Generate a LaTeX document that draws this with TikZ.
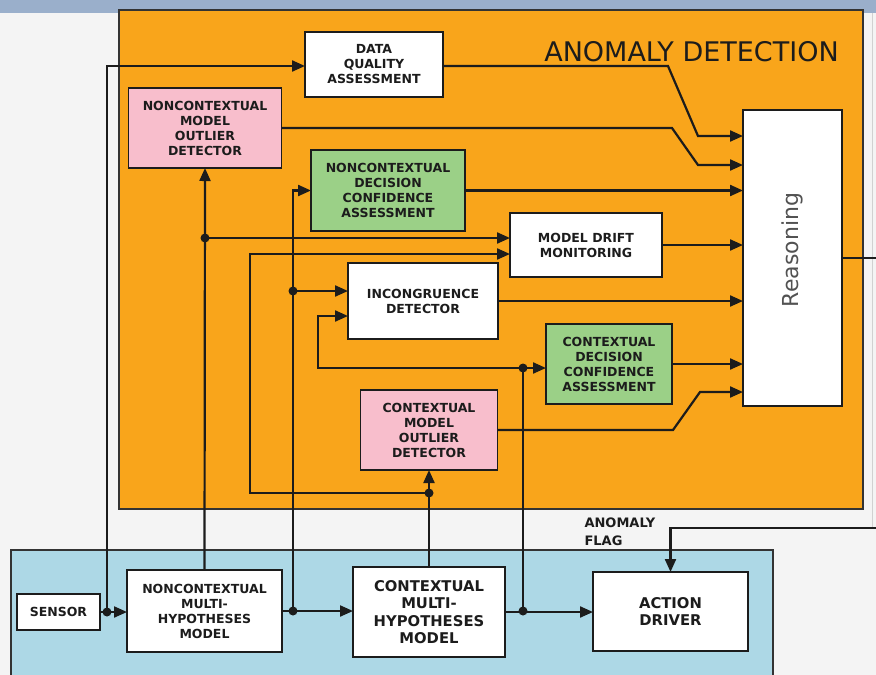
\documentclass[tikz,border=0pt]{standalone}
\usepackage{fontspec}
\setmainfont{DejaVu Sans}
\usetikzlibrary{arrows.meta,calc}
\definecolor{pagebg}{HTML}{F4F4F4}
\definecolor{topbar}{HTML}{9AAFCB}
\definecolor{detorange}{HTML}{F9A51B}
\definecolor{sysblue}{HTML}{ADD8E6}
\definecolor{outlierpink}{HTML}{F8BECC}
\definecolor{confgreen}{HTML}{9BD087}
\definecolor{inkdark}{HTML}{1C1C1C}
\begin{document}
\begin{tikzpicture}[x=1pt,y=-1pt,
  blk/.style={draw=inkdark, line width=1.6pt, fill=white, inner sep=0pt, outer sep=0pt,
    align=center, text=inkdark, font=\fontsize{12.5}{15}\selectfont\bfseries},
  bigblk/.style={blk, font=\fontsize{14.8}{17.5}\selectfont\bfseries},
  pinkblk/.style={blk, fill=outlierpink},
  greenblk/.style={blk, fill=confgreen},
  wire/.style={line width=2.2pt, draw=inkdark},
  flow/.style={wire, -{Triangle[length=13pt,width=11pt]}},
  junction/.style={circle, fill=inkdark, inner sep=0pt, minimum size=9pt},
  region/.style={draw=inkdark!90, line width=1.6pt},
]
\useasboundingbox (0,0) rectangle (876,675);
\clip (0,0) rectangle (876,675);

% page background and header strip
\fill[pagebg] (0,0) rectangle (876,675);
\fill[topbar] (0,0) rectangle (876,13);
\draw[black!18, line width=0.8pt] (872,13) -- (872,528);

% the two subsystem areas
\draw[region, fill=detorange] (119,10) rectangle (863,509);
\draw[region, fill=sysblue] (11,550) rectangle (773,690);

\node[font=\fontsize{27}{31}\selectfont, text=inkdark] (title) at (691.5,52) {ANOMALY DETECTION};

% anomaly detection blocks
\node[blk, minimum width=138pt, minimum height=65pt] (dqa) at (374,64.5) {DATA\\QUALITY\\ASSESSMENT};
\node[pinkblk, minimum width=153pt, minimum height=80pt] (ncmod) at (205,128) {NONCONTEXTUAL\\MODEL\\OUTLIER\\DETECTOR};
\node[greenblk, minimum width=154pt, minimum height=81pt] (ncdca) at (388,190.5) {NONCONTEXTUAL\\DECISION\\CONFIDENCE\\ASSESSMENT};
\node[blk, minimum width=152pt, minimum height=64pt] (mdm) at (586,245) {MODEL DRIFT\\MONITORING};
\node[blk, minimum width=150pt, minimum height=76pt] (inc) at (423,301) {INCONGRUENCE\\DETECTOR};
\node[greenblk, minimum width=126pt, minimum height=80pt] (cdca) at (609,364) {CONTEXTUAL\\DECISION\\CONFIDENCE\\ASSESSMENT};
\node[pinkblk, minimum width=137pt, minimum height=80pt] (cmod) at (429,430) {CONTEXTUAL\\MODEL\\OUTLIER\\DETECTOR};
\node[blk, minimum width=99pt, minimum height=296pt, font=\fontsize{22}{26}\selectfont, text=black!68] (reason) at (792.5,258) {\rotatebox{90}{\hspace{16pt}Reasoning}};

% system blocks
\node[blk, minimum width=83pt, minimum height=36pt] (sensor) at (58.5,612) {SENSOR};
\node[blk, minimum width=155pt, minimum height=82pt] (nmh) at (204.5,611) {NONCONTEXTUAL\\MULTI-\\HYPOTHESES\\MODEL};
\node[bigblk, minimum width=152pt, minimum height=90pt] (cmh) at (429,612) {CONTEXTUAL\\MULTI-\\HYPOTHESES\\MODEL};
\node[bigblk, minimum width=155pt, minimum height=79pt] (act) at (670.5,611.5) {ACTION\\DRIVER};

\node[anchor=west, align=left, text=inkdark, font=\fontsize{13}{18}\selectfont\bfseries] (flaglbl) at (581,532) {ANOMALY\\FLAG};

% branch points and bends
\coordinate (j1) at (107,612);
\coordinate (j2) at (205,238);
\coordinate (j3) at (293,611);
\coordinate (j4) at (293,291);
\coordinate (j5) at (429,493);
\coordinate (c5) at (250,254);
\coordinate (j6) at (523,611);
\coordinate (j7) at (523,368);
\coordinate (c7) at (318,316);
\coordinate (k1a) at (668,66);
\coordinate (k1b) at (698,136);
\coordinate (k2a) at (672,128);
\coordinate (k2b) at (698,165);
\coordinate (k3a) at (673,430);
\coordinate (k3b) at (700,392);
\coordinate (rout) at (880,258);
\coordinate (flagin) at (880,528);

% sensor path
\draw[flow] (sensor.east) -- (sensor.east -| nmh.west);
\draw[flow] (j1) |- (k1a -| dqa.west);

% noncontextual model fan-out
\draw[flow] (nmh.north) -- (ncmod.south);
\draw[flow] (j2) -- (j2 -| mdm.west);
\draw[flow] (nmh.east) -- (nmh.east -| cmh.west);
\draw[flow] (j3) |- (ncdca.west);
\draw[flow] (j4) -- (j4 -| inc.west);

% contextual model fan-out
\draw[flow] (cmh.north) -- (cmod.south);
\draw[flow] (j5) -| (c5) -- (c5 -| mdm.west);
\draw[flow] (cmh.east) -- (cmh.east -| act.west);
\draw[wire] (j6) -- (j7);
\draw[flow] (j7) -- (j7 -| cdca.west);
\draw[flow] (j7) -| (c7) -- (c7 -| inc.west);

% detector outputs into reasoning
\draw[flow] (k1a -| dqa.east) -- (k1a) -- (k1b) -- (k1b -| reason.west);
\draw[flow] (ncmod.east) -- (k2a) -- (k2b) -- (k2b -| reason.west);
\draw[flow] (ncdca.east) -- (ncdca.east -| reason.west);
\draw[flow] (mdm.east) -- (mdm.east -| reason.west);
\draw[flow] (inc.east) -- (inc.east -| reason.west);
\draw[flow] (cdca.east) -- (cdca.east -| reason.west);
\draw[flow] (cmod.east) -- (k3a) -- (k3b) -- (k3b -| reason.west);

% reasoning output and returning anomaly flag
\draw[wire] (reason.east) -- (rout);
\draw[flow] (flagin) -| (act.north);

% junction dots
\foreach \j in {j1,j2,j3,j4,j5,j6,j7}
  \node[junction] at (\j) {};
\end{tikzpicture}
\end{document}
